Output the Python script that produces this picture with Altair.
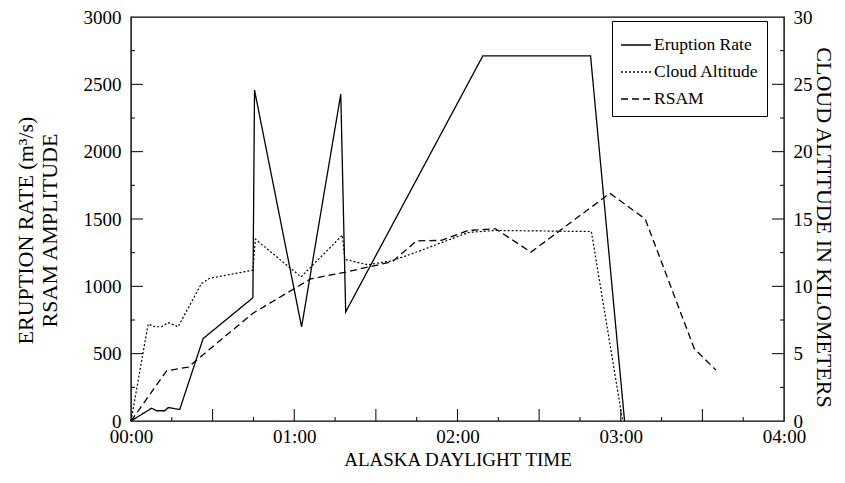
import altair as alt
import pandas as pd

# ---- data (time in minutes after 00:00 ADT) ----
eruption_min = [0, 7.6, 9.4, 12.4, 13.7, 17.9, 26.5, 44.8, 45.4, 62.7, 77.1, 78.9, 129.3, 168.9, 181.4]
eruption_rate = [0, 95, 76, 76, 100, 85, 612, 915, 2457, 699, 2427, 810, 2711, 2711, 0]

cloud_min = [0, 6.3, 8.8, 11.2, 13.7, 17.3, 25.9, 28.9, 44.8, 45.7, 62.5, 77.7, 78.6, 87, 96,
             105.7, 124, 133.8, 169.2, 180.7]
cloud_km = [0, 7.2, 7.0, 7.0, 7.3, 7.0, 10.2, 10.6, 11.2, 13.5, 10.7, 13.8, 12.0, 11.6, 11.9,
            12.6, 14.0, 14.15, 14.07, 0]

rsam_min = [0, 13.1, 21, 44.8, 66, 79, 96, 105, 114, 124, 134, 147, 176, 189, 207, 215]
rsam_amp = [0, 373, 400, 800, 1055, 1106, 1183, 1338, 1341, 1415, 1427, 1254, 1691, 1500, 538, 378]

series_names = ["Eruption Rate", "Cloud Altitude", "RSAM"]

x_label_values = [0, 60, 120, 180, 240]
left_label_values = [0, 500, 1000, 1500, 2000, 2500, 3000]
right_label_values = [0, 5, 10, 15, 20, 25, 30]

x_major_ticks = [30, 60, 90, 120, 150, 180, 210]
x_minor_ticks = [15, 45, 75, 105, 135, 165, 195, 225]
left_major_ticks = [500, 1000, 1500, 2000, 2500]
left_minor_ticks = [250, 750, 1250, 1750, 2250, 2750]
right_major_ticks = [5, 10, 15, 20, 25]
right_minor_ticks = [2.5, 7.5, 12.5, 17.5, 22.5, 27.5]

# ---- tables ----
left_df = pd.concat([
    pd.DataFrame({"t": eruption_min, "v": eruption_rate, "series": series_names[0]}),
    pd.DataFrame({"t": rsam_min, "v": rsam_amp, "series": series_names[2]}),
])
right_df = pd.DataFrame({"t": cloud_min, "v": cloud_km, "series": series_names[1]})

W, H = 653, 404
FONT = "Liberation Serif"

xscale = alt.Scale(domain=[0, 240], nice=False, zero=False)
lscale = alt.Scale(domain=[0, 3000], nice=False)
rscale = alt.Scale(domain=[0, 30], nice=False)
dash_scale = alt.Scale(domain=series_names, range=[[1, 0], [2, 2], [7, 4]])

legend = alt.Legend(
    title=None, orient="none", legendX=481, legendY=4, direction="vertical",
    symbolType="stroke", symbolSize=900, symbolStrokeWidth=1.3, symbolStrokeColor="black",
    labelFont=FONT, labelFontSize=17.5, labelColor="black", labelOffset=2,
    strokeColor="black", fillColor="white", padding=8, rowPadding=2,
)

x_axis = alt.Axis(
    values=x_label_values, labelExpr="(datum.value < 600 ? '0' : '') + floor(datum.value/60) + ':00'",
    labelFlush=False, labelPadding=6, title="ALASKA DAYLIGHT TIME",
    titleY=44, titleBaseline="alphabetic", titleFontSize=19,
)
left_axis = alt.Axis(
    values=left_label_values, format="d", labelPadding=10,
    title=["ERUPTION RATE (m\u00b3/s)", "RSAM AMPLITUDE"],
    titleX=-106, titleY=213, titleAngle=-90, titleAlign="center", titleBaseline="middle",
    titleLineHeight=24, titleFontSize=22,
)
right_axis = alt.Axis(
    orient="right", values=right_label_values, format="d", labelPadding=9,
    title="CLOUD ALTITUDE IN KILOMETERS",
    titleX=39, titleY=210, titleAngle=90, titleAlign="center", titleBaseline="middle",
    titleFontSize=22,
)

left_lines = alt.Chart(left_df).mark_line(color="black", strokeWidth=1.3).encode(
    x=alt.X("t:Q", scale=xscale, axis=x_axis),
    y=alt.Y("v:Q", scale=lscale, axis=left_axis),
    strokeDash=alt.StrokeDash("series:N", scale=dash_scale, legend=legend),
    detail="series:N",
)


def xticks(vals, length):
    return alt.Chart(pd.DataFrame({"t": vals})).mark_rule(color="black", strokeWidth=1).encode(
        x=alt.X("t:Q", scale=xscale, axis=x_axis), y=alt.value(H), y2=alt.value(H - length))


def lticks(vals, length):
    return alt.Chart(pd.DataFrame({"v": vals})).mark_rule(color="black", strokeWidth=1).encode(
        y=alt.Y("v:Q", scale=lscale, axis=left_axis), x=alt.value(0), x2=alt.value(length))


def rticks(vals, length):
    return alt.Chart(pd.DataFrame({"v": vals})).mark_rule(color="black", strokeWidth=1).encode(
        y=alt.Y("v:Q", scale=rscale, axis=right_axis), x=alt.value(W), x2=alt.value(W - length))


left = alt.layer(
    left_lines,
    xticks(x_major_ticks, 12), xticks(x_minor_ticks, 4),
    lticks(left_major_ticks, 12), lticks(left_minor_ticks, 4),
)

right_lines = alt.Chart(right_df).mark_line(color="black", strokeWidth=1.2).encode(
    x=alt.X("t:Q", scale=xscale, axis=x_axis),
    y=alt.Y("v:Q", scale=rscale, axis=right_axis),
    strokeDash=alt.StrokeDash("series:N", scale=dash_scale, legend=legend),
)

right = alt.layer(right_lines, rticks(right_major_ticks, 12), rticks(right_minor_ticks, 4))

chart = alt.layer(left, right).resolve_scale(y="independent").properties(
    width=W, height=H,
    padding={"left": 123, "top": 9, "right": 52, "bottom": 52},
    autosize=alt.AutoSizeParams(type="none"),
    background="white",
).configure_view(
    stroke="black", strokeWidth=1.4,
).configure_axis(
    domain=False, ticks=False, grid=False,
    labelFont=FONT, labelFontSize=19, labelColor="black",
    titleFont=FONT, titleFontSize=18, titleFontWeight="normal", titleColor="black",
)

chart.save("out.html", embed_options={"renderer": "svg", "actions": False})
